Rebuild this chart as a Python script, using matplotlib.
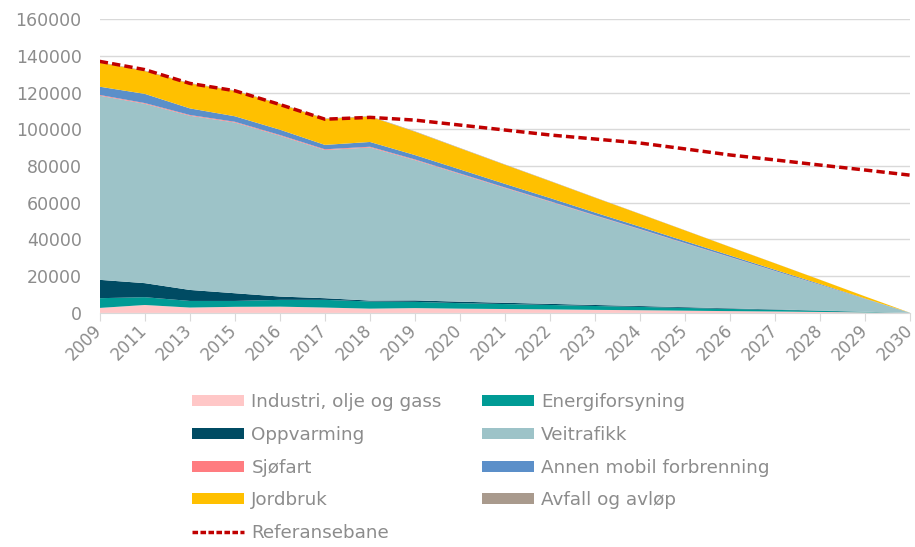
import numpy as np
import matplotlib
matplotlib.use("Agg")
import matplotlib.pyplot as plt
from matplotlib.patches import Patch
from matplotlib.lines import Line2D
from matplotlib.transforms import ScaledTranslation

plt.rcParams["font.family"] = ["DejaVu Sans"]

# Years on the x axis (categories)
years = ["2009", "2011", "2013", "2015", "2016", "2017", "2018", "2019", "2020",
         "2021", "2022", "2023", "2024", "2025", "2026", "2027", "2028", "2029", "2030"]

# Emissions per sector
industri = [2700, 4300, 2900, 3300, 3400, 2900, 2300, 2600, 2300, 2100, 1900,
            1650, 1450, 1200, 950, 750, 500, 250, 0]
energi = [5300, 4250, 3600, 3200, 3700, 4200, 3900, 3400, 3000, 2700, 2400,
          2100, 1800, 1500, 1200, 900, 600, 300, 0]
oppvarming = [10000, 7650, 6000, 4200, 1800, 900, 500, 800, 800, 700, 620,
              550, 480, 400, 320, 240, 160, 80, 0]
veitrafikk = [100300, 97700, 94900, 93000, 87600, 80700, 83400, 76400, 69500,
              62500, 55600, 48600, 41700, 34700, 27800, 20800, 13900, 6900, 0]
sjofart = [400, 400, 400, 400, 400, 400, 400, 370, 330, 300, 270, 230, 200,
           170, 130, 100, 70, 30, 0]
annen = [4500, 5000, 3600, 3000, 2900, 2400, 2600, 2400, 2200, 1950, 1750,
         1500, 1300, 1100, 850, 650, 450, 200, 0]
jordbruk = [13150, 12450, 13550, 13850, 13950, 14150, 13850, 12700, 11500,
            10400, 9200, 8100, 6900, 5800, 4600, 3500, 2300, 1150, 0]
avfall = [250, 250, 250, 250, 250, 250, 250, 230, 210, 190, 170, 150, 120,
          100, 80, 60, 40, 20, 0]
referanse = [137000, 132500, 125000, 121000, 113500, 105500, 106500, 105000,
             102300, 99600, 96900, 94700, 92500, 89300, 86000, 83300, 80500,
             77800, 75000]

labels = ["Industri, olje og gass", "Energiforsyning", "Oppvarming", "Veitrafikk",
          "Sjøfart", "Annen mobil forbrenning", "Jordbruk", "Avfall og avløp"]
colors = ["#FFC7C7", "#009B95", "#004B63", "#9DC3C8",
          "#FF7C80", "#5B8FC9", "#FFC000", "#A99A8D"]
grey = "#8C8C8C"

fig = plt.figure(figsize=(9.15, 5.47), dpi=100)
ax = fig.add_axes([0.109, 0.428, 0.886, 0.537])

x = np.arange(len(years))
series = [industri, energi, oppvarming, veitrafikk, sjofart, annen, jordbruk, avfall]
ax.stackplot(x, *series, colors=colors, linewidth=0)
ax.plot(x, referanse, color="#C00000", linewidth=2.5, linestyle=(0, (2.4, 1.2)))

ax.set_xlim(0, len(years) - 1)
ax.set_ylim(0, 160000)
ax.set_yticks(np.arange(0, 160001, 20000))
ax.set_yticklabels([str(v) for v in range(0, 160001, 20000)])
ax.set_xticks(x)
ax.set_xticklabels(years, rotation=45, ha="right", rotation_mode="anchor")
ax.tick_params(axis="y", length=0, labelsize=12.5, labelcolor=grey, pad=13)
ax.tick_params(axis="x", length=6, color="#D9D9D9", labelsize=12, labelcolor=grey, pad=0)
# nudge the year labels left so 2030 stays inside the figure
for lab in ax.get_xticklabels():
    lab.set_transform(lab.get_transform() + ScaledTranslation(-0.07, 0, fig.dpi_scale_trans))
ax.grid(axis="y", color="#D9D9D9", linewidth=1)
ax.set_axisbelow(True)
for s in ["top", "right", "left"]:
    ax.spines[s].set_visible(False)
ax.spines["bottom"].set_color("#D9D9D9")

# legend, ordered so it reads row by row like the original
patches = [Patch(facecolor=c, edgecolor="none") for c in colors]
ref = Line2D([], [], color="#C00000", linewidth=2.5, linestyle=(0, (1.6, 0.7)))
order = [0, 2, 4, 6]
handles = [patches[i] for i in order] + [ref] + [patches[i] for i in [1, 3, 5, 7]]
names = [labels[i] for i in order] + ["Referansebane"] + [labels[i] for i in [1, 3, 5, 7]]
leg = fig.legend(handles, names, ncol=2, loc="upper left", bbox_to_anchor=(0.21, 0.281),
                 frameon=False, fontsize=13.2, handlelength=2.85, handleheight=0.55,
                 handletextpad=0.38, labelspacing=0.8, columnspacing=2.2,
                 borderaxespad=0, borderpad=0)
for t in leg.get_texts():
    t.set_color(grey)

fig.savefig("out.png", dpi=100)
